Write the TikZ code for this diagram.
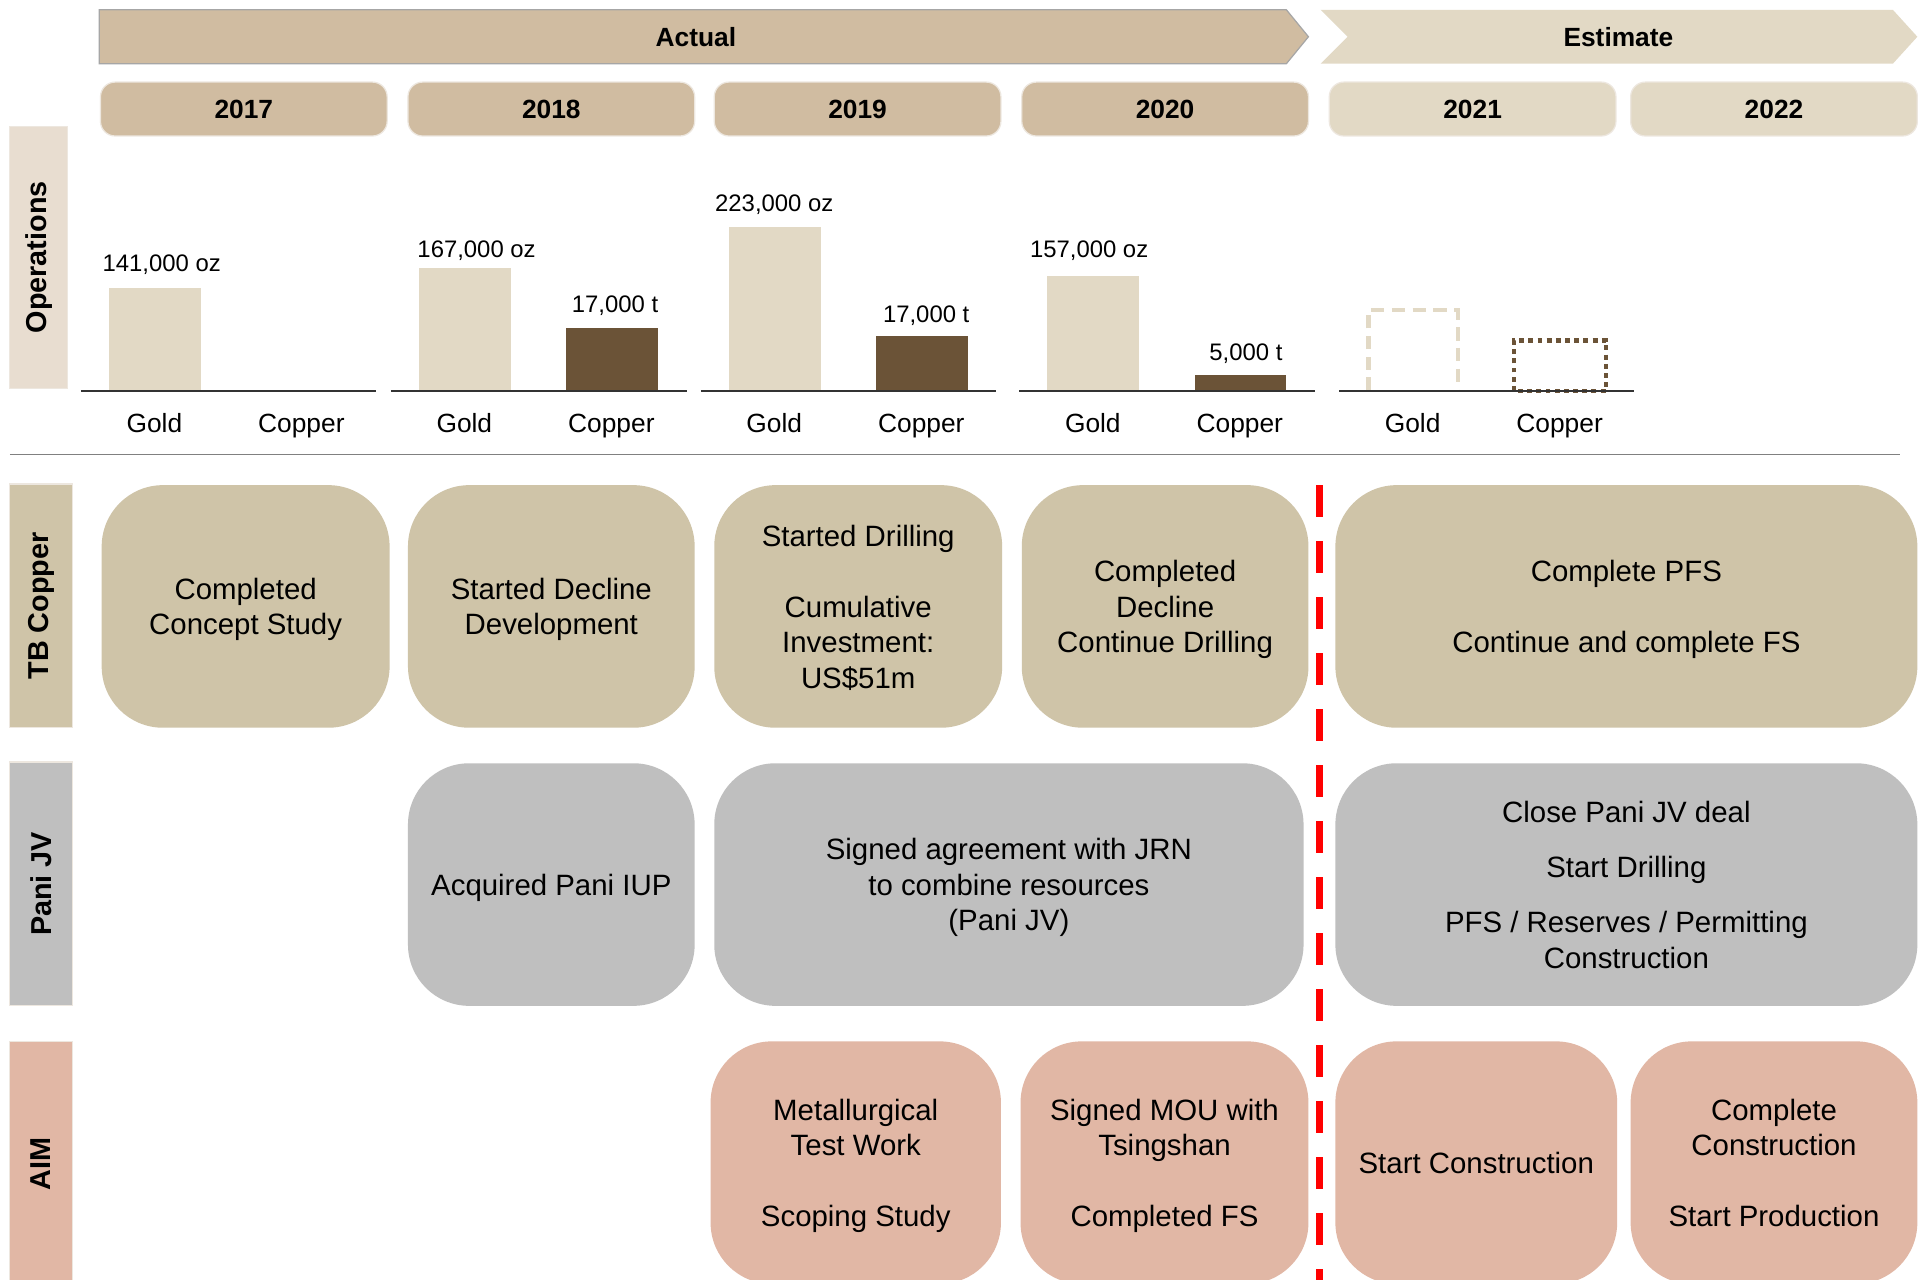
\documentclass[tikz,border=0pt]{standalone}
\usepackage{fontspec}
\setmainfont{Liberation Sans}
\definecolor{tanc}{HTML}{D0BCA1}
\definecolor{litec}{HTML}{E2D9C5}
\definecolor{opsc}{HTML}{E8DDD0}
\definecolor{tbc}{HTML}{CFC4A8}
\definecolor{panic}{HTML}{BFBFBF}
\definecolor{aimc}{HTML}{E1B7A5}
\definecolor{cuc}{HTML}{6B5337}
\definecolor{edgec}{HTML}{EDE7DF}
\begin{document}
\begin{tikzpicture}[x=1pt,y=-1pt,
  ev/.style={rounded corners=50pt, inner sep=0pt, align=center, minimum height=198pt,
    text depth=0pt, font=\fontsize{24}{29}\selectfont},
  yr/.style={rounded corners=12pt, inner sep=0pt, minimum width=234pt, minimum height=44pt,
    draw=edgec, line width=1pt, font=\bfseries\fontsize{21.5}{26}\selectfont},
  side/.style={rotate=90, inner sep=0pt, draw=edgec, line width=1pt,
    font=\bfseries\fontsize{23.5}{28}\selectfont},
  val/.style={inner sep=0pt, anchor=base, font=\fontsize{19.5}{23}\selectfont},
  axl/.style={inner sep=0pt, anchor=base, font=\fontsize{21.5}{26}\selectfont},
  axis/.style={line width=1.8pt, draw=black!80},
  banner/.style={inner sep=0pt, font=\bfseries\fontsize{21.5}{26}\selectfont}
]
\useasboundingbox (0,0) rectangle (1568,1044);
\clip (0,0) rectangle (1568,1044);
\fill[white] (0,0) rectangle (1568,1044);

% banners
\filldraw[fill=tanc, draw=black!35, line width=1pt] (81,8) -- (1050,8) -- (1068,30) -- (1050,52) -- (81,52) -- cycle;
\node[banner] (actual) at (568,30) {Actual};
\fill[litec] (1078,8) -- (1545,8) -- (1565,30) -- (1545,52) -- (1078,52) -- (1100,30) -- cycle;
\node[banner] (estimate) at (1321,30) {Estimate};

% years
\node[yr, fill=tanc] (y17) at (199,89) {2017};
\node[yr, fill=tanc] (y18) at (450,89) {2018};
\node[yr, fill=tanc] (y19) at (700,89) {2019};
\node[yr, fill=tanc] (y20) at (951,89) {2020};
\node[yr, fill=litec] (y21) at (1202,89) {2021};
\node[yr, fill=litec] (y22) at (1448,89) {2022};

% side labels
\node[side, fill=opsc, minimum width=214pt, minimum height=47pt] (sops) at (31.5,210) {Operations};
\node[side, fill=tbc, minimum width=199pt, minimum height=51pt] (stb) at (33.5,494.5) {TB Copper};
\node[side, fill=panic, minimum width=199pt, minimum height=51pt] (spani) at (33.5,721.5) {Pani JV};
\node[side, fill=aimc, minimum width=200pt, minimum height=51pt] (saim) at (33.5,950) {AIM};

% bars
\fill[litec] (89,235) rectangle (164,319);
\fill[litec] (342,219) rectangle (417,319);
\fill[cuc] (462,268) rectangle (537,319);
\fill[litec] (595,185) rectangle (670,319);
\fill[cuc] (715,274) rectangle (790,319);
\fill[litec] (855,225) rectangle (930,319);
\fill[cuc] (975,306) rectangle (1050,319);
\draw[litec, line width=3.5pt, dash pattern=on 11pt off 6pt] (1117,319) -- (1117,253) -- (1190,253) -- (1190,319);
\draw[cuc, line width=3.5pt, dash pattern=on 4pt off 3.5pt] (1236,319) -- (1236,278) -- (1311,278) -- (1311,319) -- cycle;

% axes
\draw[axis] (66,319) -- (307,319);
\draw[axis] (319,319) -- (561,319);
\draw[axis] (572,319) -- (813,319);
\draw[axis] (832,319) -- (1073,319);
\draw[axis] (1093,319) -- (1334,319);

% value labels
\node[val] (v1) at (132,222) {141,000 oz};
\node[val] (v2) at (389,210) {167,000 oz};
\node[val] (v3) at (502,255) {17,000 t};
\node[val] (v4) at (632,173) {223,000 oz};
\node[val] (v5) at (756,263) {17,000 t};
\node[val] (v6) at (889,210) {157,000 oz};
\node[val] (v7) at (1017,294) {5,000 t};

% axis labels
\node[axl] (g17) at (126,353) {Gold};
\node[axl] (c17) at (246,353) {Copper};
\node[axl] (g18) at (379,353) {Gold};
\node[axl] (c18) at (499,353) {Copper};
\node[axl] (g19) at (632,353) {Gold};
\node[axl] (c19) at (752,353) {Copper};
\node[axl] (g20) at (892,353) {Gold};
\node[axl] (c20) at (1012,353) {Copper};
\node[axl] (g21) at (1153,353) {Gold};
\node[axl] (c21) at (1273,353) {Copper};

% separator
\draw[black!50, line width=1.5pt] (8,371) -- (1551,371);

% TB Copper row
\node[ev, fill=tbc, minimum width=235pt] (t17) at (200.5,495) {Completed\\Concept Study};
\node[ev, fill=tbc, minimum width=234pt] (t18) at (450,495) {Started Decline\\Development};
\node[ev, fill=tbc, minimum width=235pt] (t19) at (700.5,495) {Started Drilling\\[29pt]Cumulative\\Investment:\\US\$51m};
\node[ev, fill=tbc, minimum width=234pt] (t20) at (951,495) {Completed\\Decline\\Continue Drilling};
\node[ev, fill=tbc, minimum width=475pt] (t21) at (1327.5,495) {Complete PFS\\[29pt]Continue and complete FS};

% Pani JV row
\node[ev, fill=panic, minimum width=234pt] (p18) at (450,722) {Acquired Pani IUP};
\node[ev, fill=panic, minimum width=481pt] (p19) at (823.5,722) {Signed agreement with JRN\\to combine resources\\(Pani JV)};
\node[ev, fill=panic, minimum width=475pt] (p21) at (1327.5,722) {Close Pani JV deal\\[16pt]Start Drilling\\[16pt]PFS / Reserves / Permitting\\Construction};

% AIM row
\node[ev, fill=aimc, minimum width=237pt] (a19) at (698.5,949) {Metallurgical\\Test Work\\[29pt]Scoping Study};
\node[ev, fill=aimc, minimum width=235pt] (a20) at (950.5,949) {Signed MOU with\\Tsingshan\\[29pt]Completed FS};
\node[ev, fill=aimc, minimum width=230pt] (a21) at (1205,949) {Start Construction};
\node[ev, fill=aimc, minimum width=234pt] (a22) at (1448,949) {Complete\\Construction\\[29pt]Start Production};

% red divider
\coordinate (rtop) at (1077,396);
\coordinate (rbot) at (1077,1050);
\draw[red, line width=5.5pt, dash pattern=on 26pt off 19.7pt] (rtop) -- (rbot);
\end{tikzpicture}
\end{document}
